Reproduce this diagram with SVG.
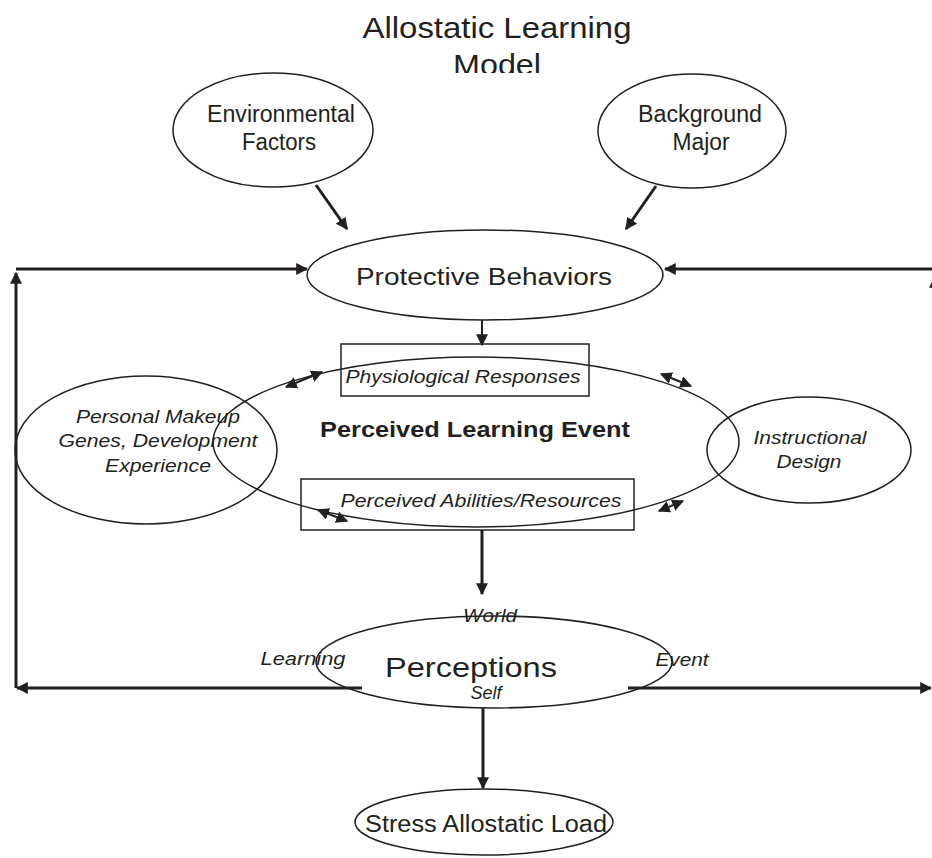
<svg xmlns="http://www.w3.org/2000/svg" width="932" height="858" viewBox="0 0 932 858">
<style>
.el{fill:none;stroke:#231f20;stroke-width:1.5}
.bx{fill:none;stroke:#231f20;stroke-width:1.5}
.cn{fill:none;stroke:#231f20;stroke-width:3}
.cs{fill:none;stroke:#231f20;stroke-width:2}
text{font-family:"Liberation Sans",Arial,sans-serif;fill:#231f20;text-anchor:middle}
.n{font-size:23px}
.i{font-size:19px;font-style:italic}
.t{font-size:30px}
</style>
<defs>
<marker id="ah" viewBox="0 0 10 10" refX="9" refY="5" markerWidth="4" markerHeight="4" orient="auto-start-reverse" markerUnits="strokeWidth">
<path d="M0,0 L10,5 L0,10 z" fill="#231f20"/>
</marker>
<marker id="as" viewBox="0 0 10 10" refX="9" refY="5" markerWidth="6" markerHeight="6" orient="auto-start-reverse" markerUnits="strokeWidth">
<path d="M0,0 L10,5 L0,10 z" fill="#231f20"/>
</marker>
<clipPath id="tc"><rect x="0" y="0" width="932" height="73"/></clipPath>
</defs>
<g id="title" clip-path="url(#tc)">
<text class="t" x="497" y="38" textLength="269" lengthAdjust="spacingAndGlyphs">Allostatic Learning</text>
<text class="t" x="497" y="75" textLength="88" lengthAdjust="spacingAndGlyphs">Model</text>
</g>
<g id="environmental">
<ellipse class="el" cx="273" cy="130" rx="100" ry="57"/>
<text class="n" x="281" y="122" textLength="148" lengthAdjust="spacingAndGlyphs">Environmental</text>
<text class="n" x="279" y="150" textLength="74" lengthAdjust="spacingAndGlyphs">Factors</text>
</g>
<g id="background">
<ellipse class="el" cx="692" cy="131" rx="94" ry="57"/>
<text class="n" x="700" y="122" textLength="124" lengthAdjust="spacingAndGlyphs">Background</text>
<text class="n" x="701" y="150" textLength="57" lengthAdjust="spacingAndGlyphs">Major</text>
</g>
<g id="protective">
<ellipse class="el" cx="485" cy="275" rx="178" ry="45"/>
<text class="n" x="484" y="285" textLength="256" lengthAdjust="spacingAndGlyphs">Protective Behaviors</text>
</g>
<g id="personal">
<ellipse class="el" cx="146" cy="450" rx="131" ry="74"/>
<text class="i" x="158" y="423" textLength="164" lengthAdjust="spacingAndGlyphs">Personal Makeup</text>
<text class="i" x="158" y="447" textLength="199" lengthAdjust="spacingAndGlyphs">Genes, Development</text>
<text class="i" x="158" y="472" textLength="106" lengthAdjust="spacingAndGlyphs">Experience</text>
</g>
<g id="event">
<ellipse class="el" cx="476" cy="442" rx="263" ry="85"/>
<text x="475" y="437" font-weight="bold" font-size="22" textLength="310" lengthAdjust="spacingAndGlyphs">Perceived Learning Event</text>
</g>
<g id="instructional">
<ellipse class="el" cx="809" cy="450" rx="102" ry="53"/>
<text class="i" x="810" y="444" textLength="113" lengthAdjust="spacingAndGlyphs">Instructional</text>
<text class="i" x="809" y="468" textLength="65" lengthAdjust="spacingAndGlyphs">Design</text>
</g>
<g id="physiological">
<rect class="bx" x="341" y="344" width="248" height="52"/>
<text class="i" x="463" y="383" font-size="20" textLength="235" lengthAdjust="spacingAndGlyphs">Physiological Responses</text>
</g>
<g id="abilities">
<rect class="bx" x="301" y="479" width="333" height="51"/>
<text class="i" x="481" y="507" textLength="281" lengthAdjust="spacingAndGlyphs">Perceived Abilities/Resources</text>
</g>
<g id="perceptions">
<ellipse class="el" cx="494" cy="662" rx="178" ry="46"/>
<text x="471" y="677" font-size="28" textLength="172" lengthAdjust="spacingAndGlyphs">Perceptions</text>
<text class="i" x="490" y="622" textLength="54" lengthAdjust="spacingAndGlyphs">World</text>
<text class="i" x="486" y="699" font-size="18" textLength="31" lengthAdjust="spacingAndGlyphs">Self</text>
<text class="i" x="303" y="665" textLength="85" lengthAdjust="spacingAndGlyphs">Learning</text>
<text class="i" x="682" y="666" textLength="53" lengthAdjust="spacingAndGlyphs">Event</text>
</g>
<g id="stress">
<ellipse class="el" cx="484" cy="822" rx="129" ry="33"/>
<text class="n" x="486" y="832" textLength="242" lengthAdjust="spacingAndGlyphs">Stress Allostatic Load</text>
</g>
<g id="connectors">
<path class="cn" d="M316,185 L347,229" marker-end="url(#ah)"/>
<path class="cn" d="M656,186 L626,229" marker-end="url(#ah)"/>
<path class="cn" d="M16,269 L307,269" marker-end="url(#ah)"/>
<path class="cn" d="M16,688 L16,273" marker-end="url(#ah)"/>
<path class="cn" d="M932,269 L665,269" marker-end="url(#ah)"/>
<path class="cn" d="M935,300 L935,277" marker-end="url(#ah)"/>
<path class="cn" d="M362,688 L17,688" marker-end="url(#ah)"/>
<path class="cn" d="M628,688 L931,688" marker-end="url(#ah)"/>
<path class="cs" d="M482,320 L482,345" marker-end="url(#as)"/>
<path class="cn" d="M482,530 L482,594" marker-end="url(#ah)"/>
<path class="cn" d="M483,708 L483,788" marker-end="url(#ah)"/>
<path class="cs" d="M286,387 L322,372" marker-start="url(#as)" marker-end="url(#as)"/>
<path class="cs" d="M661,374 L691,386" marker-start="url(#as)" marker-end="url(#as)"/>
<path class="cs" d="M318,510 L347,521" marker-start="url(#as)" marker-end="url(#as)"/>
<path class="cs" d="M659,511 L683,501" marker-start="url(#as)" marker-end="url(#as)"/>
</g>
</svg>
